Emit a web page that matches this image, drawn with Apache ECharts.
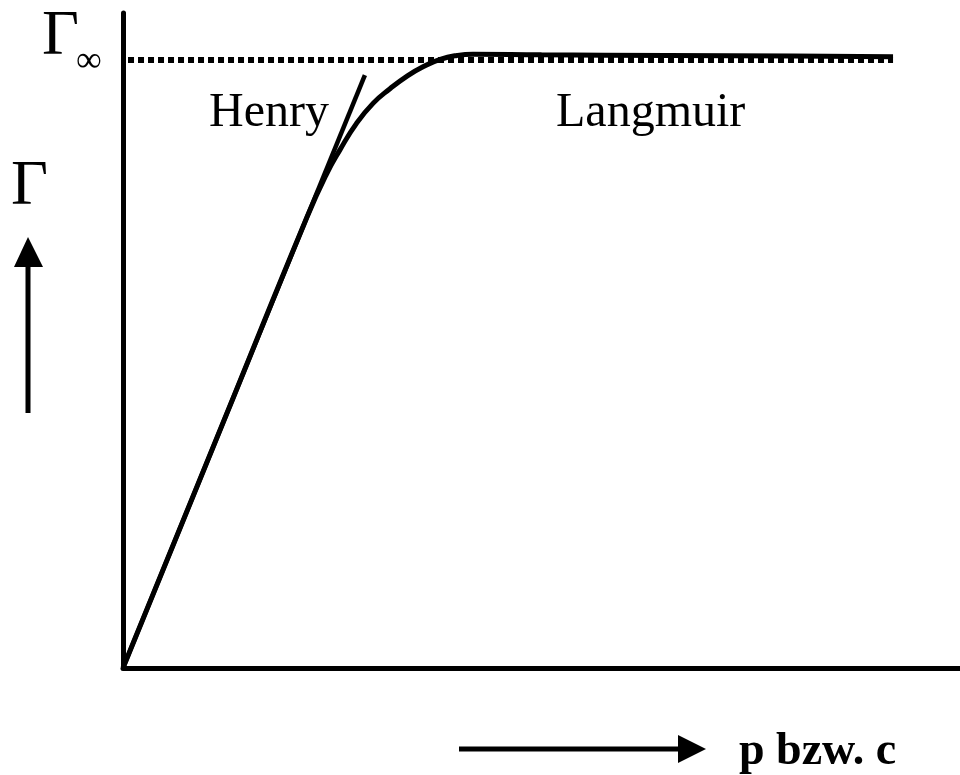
<!DOCTYPE html>
<html>
<head>
<meta charset="utf-8">
<script src="https://cdn.jsdelivr.net/npm/echarts@6/dist/echarts.min.js"></script>
<style>
html,body{margin:0;padding:0;background:#fff;}
#c{width:960px;height:775px;}
</style>
</head>
<body>
<div id="c"></div>
<script>
// Langmuir isotherm (arbitrary units 0..100)
const curveX = [0, 12, 22, 24.3, 25.9, 27.9, 29.9, 31.9, 33.9, 35.9, 37.9, 39.9, 41.8, 50, 65, 80, 92];
const curveY = [0, 37.7, 69.1, 75.6, 79.3, 83.4, 86.5, 88.7, 90.6, 92.1, 93.2, 93.8, 94.0, 93.9, 93.8, 93.7, 93.6];
// Henry tangent
const henryX = [0, 28.9];
const henryY = [0, 90.8];
// Gamma infinity saturation level (dotted)
const satX = [0.6, 92];
const satY = [93.1, 93.1];

const zip = (xs, ys) => xs.map((x, i) => [x, ys[i]]);
const serif = '"Liberation Serif","DejaVu Serif",serif';

const chart = echarts.init(document.getElementById('c'));
chart.setOption({
  animation: false,
  backgroundColor: '#fff',
  grid: {left: 123, right: 0, top: 13, bottom: 107},
  xAxis: {
    type: 'value', min: 0, max: 100,
    axisLine: {show: true, onZero: false, lineStyle: {color: '#000', width: 5}},
    axisTick: {show: false}, axisLabel: {show: false}, splitLine: {show: false}
  },
  yAxis: {
    type: 'value', min: 0, max: 100.3,
    axisLine: {show: true, onZero: false, lineStyle: {color: '#000', width: 5}},
    axisTick: {show: false}, axisLabel: {show: false}, splitLine: {show: false}
  },
  series: [
    {
      type: 'line', data: zip(satX, satY), showSymbol: false, silent: true,
      lineStyle: {color: '#000', width: 6, type: [6, 4], cap: 'butt'}
    },
    {
      type: 'line', data: zip(henryX, henryY), showSymbol: false, silent: true,
      lineStyle: {color: '#000', width: 4.5}
    },
    {
      type: 'line', data: zip(curveX, curveY), showSymbol: false, silent: true,
      smooth: 0.5,
      lineStyle: {color: '#000', width: 5}
    }
  ],
  graphic: [
    {type: 'text', x: 42, y: 37, style: {text: 'Γ', font: '64px ' + serif, fill: '#000', verticalAlign: 'middle'}},
    {type: 'text', x: 76, y: 62, style: {text: '∞', font: '36px ' + serif, fill: '#000', verticalAlign: 'middle'}},
    {type: 'text', x: 209, y: 113, style: {text: 'Henry', font: '48px ' + serif, fill: '#000', verticalAlign: 'middle'}},
    {type: 'text', x: 556, y: 113, style: {text: 'Langmuir', font: '48px ' + serif, fill: '#000', verticalAlign: 'middle'}},
    {type: 'text', x: 11, y: 187, style: {text: 'Γ', font: '64px ' + serif, fill: '#000', verticalAlign: 'middle'}},
    {type: 'line', shape: {x1: 28, y1: 413, x2: 28, y2: 262}, style: {stroke: '#000', lineWidth: 5}},
    {type: 'polygon', shape: {points: [[28, 237], [14, 267], [43, 267]]}, style: {fill: '#000'}},
    {type: 'line', shape: {x1: 459, y1: 749, x2: 684, y2: 749}, style: {stroke: '#000', lineWidth: 5}},
    {type: 'polygon', shape: {points: [[706, 749], [678, 735], [678, 763]]}, style: {fill: '#000'}},
    {type: 'text', x: 739, y: 752, style: {text: 'p bzw. c', font: 'bold 46px ' + serif, fill: '#000', verticalAlign: 'middle'}}
  ]
});
</script>
</body>
</html>
